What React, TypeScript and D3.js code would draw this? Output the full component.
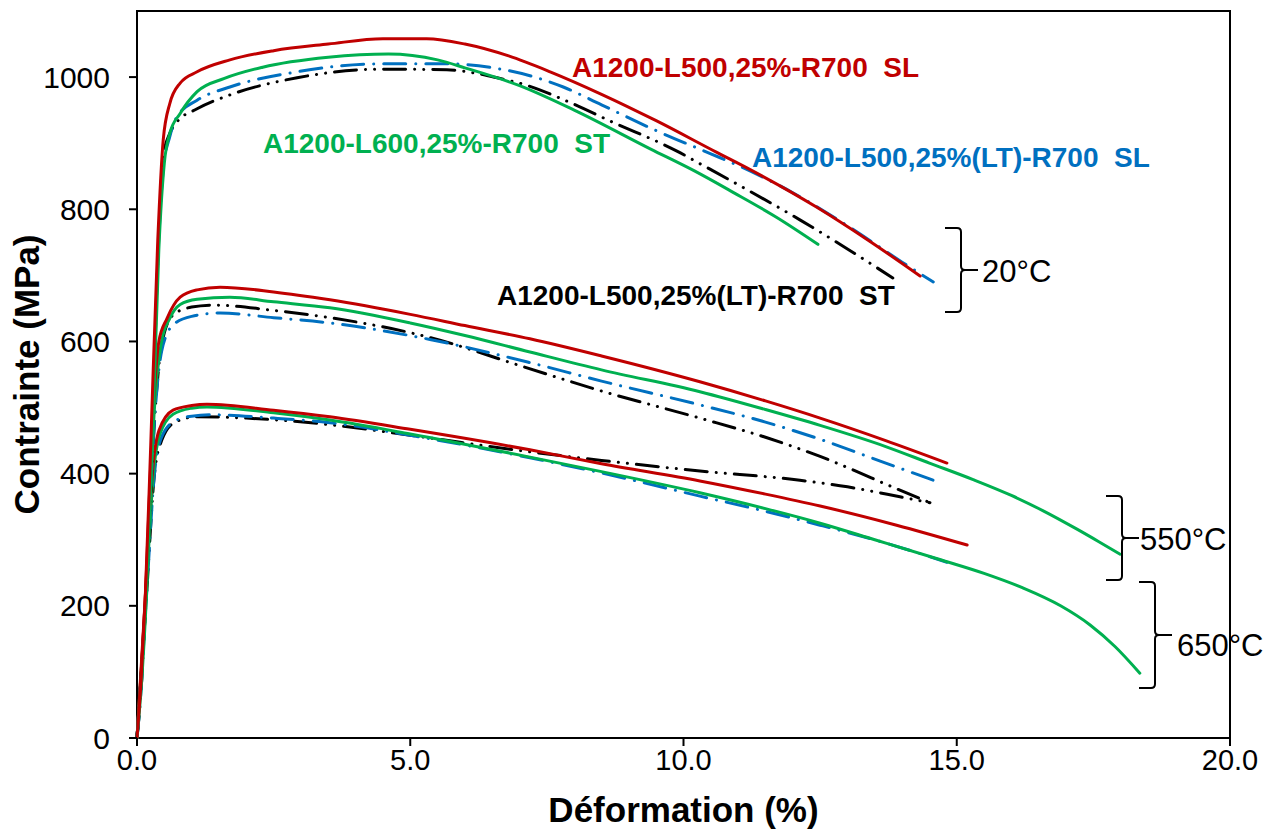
import React from "react";
import * as d3 from "d3";

type Pt = [number, number];

// ---- Data (strain %, stress MPa) ----
const red20: Pt[] = [[0,0],[0.07,80],[0.15,210],[0.25,440],[0.38,753],[0.48,905],[0.6,960],[0.79,991],[1.1,1008],[1.7,1026],[2.5,1040],[3.5,1050],[4.5,1058],[5.3,1058],[6.0,1050],[6.8,1032],[7.56,1008],[8.5,974],[9.5,934],[10.61,886],[11.22,860],[12.44,803],[13.4,752],[14.33,699]];
const green20: Pt[] = [[0,0],[0.08,80],[0.17,210],[0.28,440],[0.4,740],[0.5,870],[0.6,915],[0.79,945],[1.1,978],[1.6,998],[2.3,1015],[3.5,1030],[4.6,1035],[5.5,1026],[6.0,1014],[7.0,987],[8.0,950],[9.4,891],[10.2,858],[10.9,826],[11.7,788],[12.46,747]];
const blue20: Pt[] = [[0,0],[0.08,80],[0.16,210],[0.27,440],[0.38,720],[0.48,860],[0.6,910],[0.73,940],[1.1,965],[1.7,985],[2.93,1008],[4.45,1020],[5.67,1020],[6.59,1013],[7.19,1002],[7.8,985],[8.5,958],[9.5,919],[10.5,884],[11.06,864],[12.0,825],[13.0,775],[14.0,720],[14.57,690]];
const black20: Pt[] = [[0,0],[0.08,80],[0.16,210],[0.27,440],[0.38,720],[0.48,880],[0.6,915],[0.73,932],[1.1,952],[1.7,973],[2.93,999],[4.45,1012],[5.67,1011],[6.59,999],[7.19,986],[7.8,966],[8.7,932],[9.88,888],[10.3,869],[11.2,828],[12.13,784],[13.0,740],[13.83,696]];

const red550: Pt[] = [[0,0],[0.15,210],[0.3,500],[0.4,600],[0.55,635],[0.79,667],[1.1,678],[1.52,682],[2.5,675],[3.53,663],[5.0,641],[6.0,624],[7.19,604],[8.5,578],[10.3,539],[11.5,510],[12.5,484],[13.7,450],[14.82,416]];
const green550: Pt[] = [[0,0],[0.16,210],[0.32,500],[0.45,600],[0.6,635],[0.79,656],[1.1,664],[1.7,667],[2.5,660],[3.53,651],[5.0,628],[6.0,609],[7.19,584],[8.5,557],[10.3,524],[11.5,497],[12.5,473],[13.7,441],[14.5,416],[15.3,391],[16.0,367],[16.6,343],[17.2,316],[17.6,297],[17.99,278]];
const blue550: Pt[] = [[0,0],[0.16,210],[0.32,480],[0.45,585],[0.66,625],[1.0,638],[1.52,643],[2.5,636],[3.53,628],[5.36,603],[7.19,568],[8.5,540],[10.3,504],[11.5,478],[12.5,452],[13.6,419],[14.57,390]];
const black550: Pt[] = [[0,0],[0.16,210],[0.32,480],[0.45,595],[0.66,640],[1.0,652],[1.39,655],[2.5,647],[3.53,636],[5.36,606],[7.06,562],[8.5,525],[10.3,484],[11.5,455],[12.5,426],[13.96,375],[14.51,356]];

const red650: Pt[] = [[0,0],[0.15,210],[0.28,400],[0.4,465],[0.66,496],[1.0,503],[1.28,505],[2.5,496],[3.53,486],[5.0,467],[7.19,436],[8.5,415],[10.3,389],[11.5,369],[12.5,351],[13.9,322],[15.19,292]];
const green650: Pt[] = [[0,0],[0.16,210],[0.3,400],[0.42,460],[0.66,490],[1.0,499],[1.28,501],[2.5,492],[3.53,481],[5.0,460],[7.19,425],[8.5,403],[10.3,371],[11.5,347],[12.5,325],[13.5,300],[14.69,270],[15.5,249],[16.21,227],[16.9,200],[17.44,171],[17.9,138],[18.35,98]];
const blue650: Pt[] = [[0,0],[0.17,210],[0.32,400],[0.45,455],[0.7,480],[1.0,487],[1.39,489],[2.5,484],[3.53,477],[5.0,458],[7.19,424],[8.5,401],[10.3,366],[11.5,343],[12.5,322],[13.7,295],[14.82,266]];
const black650: Pt[] = [[0,0],[0.17,210],[0.32,400],[0.45,450],[0.7,478],[1.1,486],[2.0,484],[3.53,474],[5.0,458],[7.19,433],[8.5,420],[10.3,404],[12.13,390],[13.0,380],[13.96,365],[14.51,356]];

const xTicks = [0, 5, 10, 15, 20];
const yTicks = [0, 200, 400, 600, 800, 1000];

const seriesLabels = [
  "A1200-L500,25%-R700  SL",
  "A1200-L600,25%-R700  ST",
  "A1200-L500,25%(LT)-R700  SL",
  "A1200-L500,25%(LT)-R700  ST",
];
const tempLabels = ["20°C", "550°C", "650°C"];

const RED = "#C00000";
const GREEN = "#00B050";
const BLUE = "#0070C0";
const BLACK = "#000000";

export default function App() {
  const x = d3.scaleLinear().domain([0, 20]).range([137, 1230]);
  const y = d3.scaleLinear().domain([0, 1100]).range([738, 11]);
  const line = d3
    .line<Pt>()
    .x((d) => x(d[0]))
    .y((d) => y(d[1]))
    .curve(d3.curveMonotoneX);

  const dashBlue = "22 10 0.1 10";
  const dashBlack = "22 9 0.1 9 0.1 9";

  const curves: { data: Pt[]; color: string; dash?: string }[] = [
    { data: black650, color: BLACK, dash: dashBlack },
    { data: blue650, color: BLUE, dash: dashBlue },
    { data: green650, color: GREEN },
    { data: red650, color: RED },
    { data: black550, color: BLACK, dash: dashBlack },
    { data: blue550, color: BLUE, dash: dashBlue },
    { data: green550, color: GREEN },
    { data: red550, color: RED },
    { data: black20, color: BLACK, dash: dashBlack },
    { data: blue20, color: BLUE, dash: dashBlue },
    { data: green20, color: GREEN },
    { data: red20, color: RED },
  ];

  const font = "'Liberation Sans', Arial, Helvetica, sans-serif";

  const brace = (x0: number, top: number, mid: number, bottom: number) => {
    const xv = x0 + 16;
    const tip = xv + 17;
    return `M${x0},${top} H${xv - 4} Q${xv},${top} ${xv},${top + 4} V${mid - 4} Q${xv},${mid} ${xv + 4},${mid} H${tip} M${xv + 4},${mid} Q${xv},${mid} ${xv},${mid + 4} V${bottom - 4} Q${xv},${bottom} ${xv - 4},${bottom} H${x0}`;
  };

  const labelStyle: React.CSSProperties = { whiteSpace: "pre" };

  return (
    <div style={{ position: "absolute", left: 0, top: 0 }}>
      <svg width={1277} height={829} style={{ display: "block", background: "#fff" }} fontFamily={font}>
        <rect x={0} y={0} width={1277} height={829} fill="#fff" />
        {/* plot frame */}
        <rect x={x(0)} y={y(1100)} width={x(20) - x(0)} height={y(0) - y(1100)} fill="none" stroke="#000" strokeWidth={2} />

        {/* curves */}
        {curves.map((c, i) => (
          <path
            key={i}
            d={line(c.data) || ""}
            fill="none"
            stroke={c.color}
            strokeWidth={3}
            strokeDasharray={c.dash}
            strokeLinecap="round"
            strokeLinejoin="round"
          />
        ))}

        {/* y axis */}
        {yTicks.map((t) => (
          <g key={t}>
            <line x1={x(0) - 8} x2={x(0)} y1={y(t)} y2={y(t)} stroke="#000" strokeWidth={2} />
            <text x={x(0) - 27} y={y(t)} dy="0.35em" textAnchor="end" fontSize={30}>
              {t}
            </text>
          </g>
        ))}
        {/* x axis */}
        {xTicks.map((t) => (
          <g key={t}>
            <line x1={x(t)} x2={x(t)} y1={y(0)} y2={y(0) + 8} stroke="#000" strokeWidth={2} />
            <text x={x(t)} y={y(0) + 11} dy="0.71em" textAnchor="middle" fontSize={29}>
              {t.toFixed(1)}
            </text>
          </g>
        ))}

        {/* axis titles */}
        <text x={(x(0) + x(20)) / 2} y={810} dy="0.35em" textAnchor="middle" fontSize={35} fontWeight="bold">
          Déformation (%)
        </text>
        <text
          transform={`translate(27, ${(y(0) + y(1100)) / 2}) rotate(-90)`}
          dy="0.35em"
          textAnchor="middle"
          fontSize={35}
          fontWeight="bold"
        >
          Contrainte (MPa)
        </text>

        {/* series labels */}
        <text x={572} y={67} dy="0.35em" fontSize={28} fontWeight="bold" fill={RED} style={labelStyle}>
          {seriesLabels[0]}
        </text>
        <text x={263} y={143} dy="0.35em" fontSize={28} fontWeight="bold" fill={GREEN} style={labelStyle}>
          {seriesLabels[1]}
        </text>
        <text x={752} y={157} dy="0.35em" fontSize={28} fontWeight="bold" fill={BLUE} style={labelStyle}>
          {seriesLabels[2]}
        </text>
        <text x={497} y={295} dy="0.35em" fontSize={28} fontWeight="bold" fill={BLACK} style={labelStyle}>
          {seriesLabels[3]}
        </text>

        {/* temperature braces */}
        <path d={brace(945, 228, 270, 312)} fill="none" stroke="#000" strokeWidth={2} />
        <text x={982} y={271} dy="0.35em" fontSize={31}>{tempLabels[0]}</text>
        <path d={brace(1106, 496, 538, 580)} fill="none" stroke="#000" strokeWidth={2} />
        <text x={1140} y={539} dy="0.35em" fontSize={31}>{tempLabels[1]}</text>
        <path d={brace(1139, 582, 635, 688)} fill="none" stroke="#000" strokeWidth={2} />
        <text x={1177} y={645} dy="0.35em" fontSize={31}>{tempLabels[2]}</text>
      </svg>
    </div>
  );
}
